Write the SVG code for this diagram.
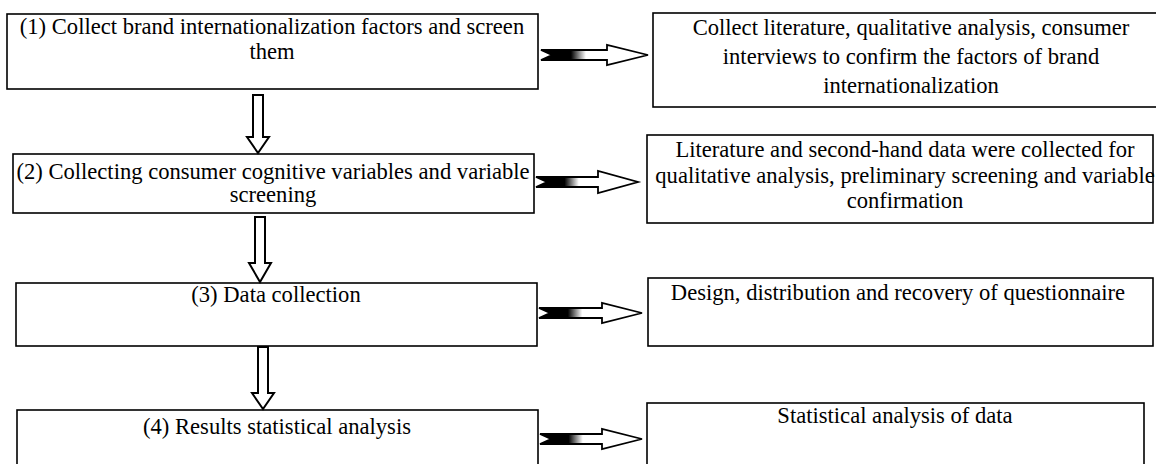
<svg xmlns="http://www.w3.org/2000/svg" width="1156" height="464" viewBox="0 0 1156 464">
<style>
.box{fill:#fff;stroke:#000;stroke-width:1.6}
.t{font-family:"Liberation Serif","Times New Roman",serif;font-size:22.6px;fill:#000;text-anchor:middle}
.ha{fill:url(#hg);stroke:#000;stroke-width:1.8;stroke-linejoin:miter}
.va{fill:#fff;stroke:#000;stroke-width:2}
</style>
<defs>
<linearGradient id="hg" x1="0" y1="0" x2="1" y2="0">
<stop offset="0" stop-color="#000"/>
<stop offset="0.28" stop-color="#000"/>
<stop offset="0.42" stop-color="#fff"/>
<stop offset="1" stop-color="#fff"/>
</linearGradient>
</defs>
<rect width="1156" height="464" fill="#fff"/>
<g id="node1">
<rect class="box" x="7" y="14" width="531" height="75"/>
<text class="t" x="272" y="34">(1) Collect brand internationalization factors and screen</text>
<text class="t" x="272" y="59">them</text>
</g>
<g id="node1r">
<rect class="box" x="653" y="13" width="520" height="94"/>
<text class="t" x="911" y="35">Collect literature, qualitative analysis, consumer</text>
<text class="t" x="911" y="64">interviews to confirm the factors of brand</text>
<text class="t" x="911" y="93">internationalization</text>
</g>
<g id="node2">
<rect class="box" x="13" y="154" width="521" height="59"/>
<text class="t" x="273" y="179">(2) Collecting consumer cognitive variables and variable</text>
<text class="t" x="273" y="202">screening</text>
</g>
<g id="node2r">
<rect class="box" x="647" y="135" width="506" height="88"/>
<text class="t" x="905" y="157">Literature and second-hand data were collected for</text>
<text class="t" x="905" y="183">qualitative analysis, preliminary screening and variable</text>
<text class="t" x="905" y="208">confirmation</text>
</g>
<g id="node3">
<rect class="box" x="16" y="283" width="521" height="63"/>
<text class="t" x="276" y="302">(3) Data collection</text>
</g>
<g id="node3r">
<rect class="box" x="648" y="278" width="505" height="68"/>
<text class="t" x="898" y="300">Design, distribution and recovery of questionnaire</text>
</g>
<g id="node4">
<rect class="box" x="17" y="410" width="521" height="70"/>
<text class="t" x="277" y="434">(4) Results statistical analysis</text>
</g>
<g id="node4r">
<rect class="box" x="647" y="403" width="497" height="75"/>
<text class="t" x="895" y="423">Statistical analysis of data</text>
</g>
<g id="connectors">
<path class="ha" transform="translate(541,55)" d="M0,-5 L66,-5 L66,-10 L107,0 L66,10 L66,5 L0,5 L11,0 Z"/>
<path class="ha" transform="translate(536,182)" d="M0,-5 L62,-5 L62,-11 L102,0 L62,11 L62,5 L0,5 L11,0 Z"/>
<path class="ha" transform="translate(539,313)" d="M0,-5 L63,-5 L63,-10 L103,0 L63,10 L63,5 L0,5 L11,0 Z"/>
<path class="ha" transform="translate(540,439)" d="M0,-5 L62,-5 L62,-10 L102,0 L62,10 L62,5 L0,5 L11,0 Z"/>
<path class="va" transform="translate(258,95)" d="M-5,0 L5,0 L5,42 L11,42 L0,58 L-11,42 L-5,42 Z"/>
<path class="va" transform="translate(260,217)" d="M-5,0 L5,0 L5,46 L11,46 L0,65 L-11,46 L-5,46 Z"/>
<path class="va" transform="translate(263,347)" d="M-5,0 L5,0 L5,46 L11,46 L0,62 L-11,46 L-5,46 Z"/>
</g>
</svg>
